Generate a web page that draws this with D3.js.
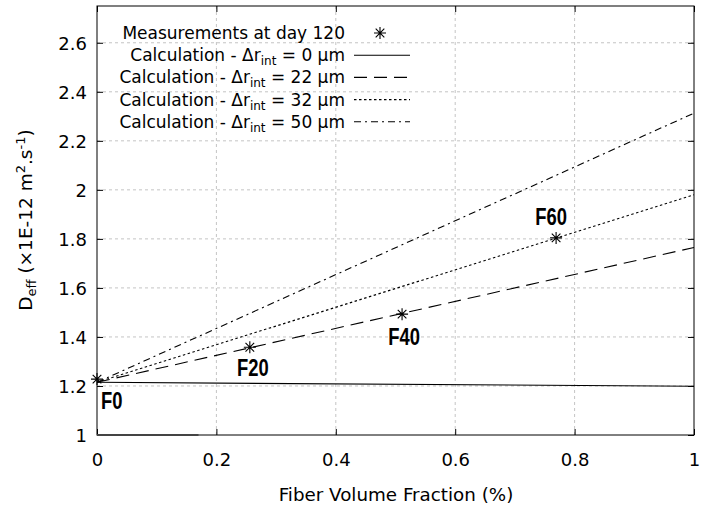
<!DOCTYPE html>
<html>
<head>
<meta charset="utf-8">
<script src="https://cdn.jsdelivr.net/npm/d3@7"></script>
<style>
  body { margin: 0; background: #fff; }
  text { font-family: "DejaVu Sans", sans-serif; fill: #000; }
  .flabel { font-family: "Liberation Sans", Arial, sans-serif; font-weight: bold; }
</style>
</head>
<body>
<script>
// chart values
const xTicks = [0, 0.2, 0.4, 0.6, 0.8, 1];
const yTicks = [1, 1.2, 1.4, 1.6, 1.8, 2, 2.2, 2.4, 2.6];
const calcX = [0, 1];
const calc0 = [1.215, 1.199];
const calc22 = [1.215, 1.765];
const calc32 = [1.215, 1.98];
const calc50 = [1.215, 2.313];
const measX = [0, 0.256, 0.511, 0.769];
const measY = [1.228, 1.358, 1.493, 1.804];
const measLabels = ["F0", "F20", "F40", "F60"];
const legendRint = ["0", "22", "32", "50"];

const W = 705, H = 512;
const margin = { top: 6, right: 11, bottom: 77, left: 97 };
const iw = W - margin.left - margin.right;
const ih = H - margin.top - margin.bottom;

const svg = d3.select('body')
    .append('svg')
    .attr("width", W)
    .attr("height", H);

const g = svg.append('g').attr('transform', `translate(${margin.left},${margin.top})`);

const x = d3.scaleLinear().domain([0, 1]).range([0, iw]);
const y = d3.scaleLinear().domain([1, 2.75]).range([ih, 0]);

// grid
g.append('g').selectAll('line').data(xTicks.slice(1, -1)).enter().append('line')
    .attr('x1', d => x(d)).attr('x2', d => x(d))
    .attr('y1', 0).attr('y2', ih)
    .attr('stroke', '#c4c4c4').attr('stroke-dasharray', '3,3');
g.append('g').selectAll('line').data(yTicks.slice(1)).enter().append('line')
    .attr('x1', 0).attr('x2', iw)
    .attr('y1', d => y(d)).attr('y2', d => y(d))
    .attr('stroke', '#c4c4c4').attr('stroke-dasharray', '3,3');

// axes (ticks inside, mirrored)
const axB = g.append('g').attr('transform', `translate(0,${ih})`)
    .call(d3.axisBottom(x).tickValues(xTicks).tickSize(-6).tickFormat(d3.format('')));
const axT = g.append('g')
    .call(d3.axisTop(x).tickValues(xTicks).tickSize(-6).tickFormat(''));
const axL = g.append('g')
    .call(d3.axisLeft(y).tickValues(yTicks).tickSize(-6).tickFormat(d3.format('')));
const axR = g.append('g').attr('transform', `translate(${iw},0)`)
    .call(d3.axisRight(y).tickValues(yTicks).tickSize(-6).tickFormat(''));
[axB, axT, axL, axR].forEach(a => {
    a.select('.domain').remove();
    a.selectAll('line').attr('stroke', '#000');
    a.selectAll('text').attr('font-size', 18).attr('font-family', '"DejaVu Sans", sans-serif').attr('fill', '#000');
});
axB.selectAll('text').attr('dy', null).attr('y', 31);
axL.selectAll('text').attr('x', -10).attr('dy', '0.36em');

// frame
g.append('rect').attr('width', iw).attr('height', ih)
    .attr('fill', 'none').attr('stroke', '#000').attr('stroke-width', 1);
g.append('line').attr('x1', x(0)).attr('x2', x(0.17)).attr('y1', y(1)).attr('y2', y(1))
    .attr('stroke', '#444').attr('stroke-width', 2);

// calculation lines
const lineGen = d3.line().x(d => x(d[0])).y(d => y(d[1]));
const series = [
    { v: calc0, dash: null },
    { v: calc22, dash: '13,7' },
    { v: calc32, dash: '2.5,2.5' },
    { v: calc50, dash: '7,4,2,4' }
];
series.forEach(s => {
    g.append('path')
        .datum(calcX.map((d, i) => [d, s.v[i]]))
        .attr('d', lineGen)
        .attr('fill', 'none')
        .attr('stroke', '#000')
        .attr('stroke-width', 1.1)
        .attr('stroke-dasharray', s.dash);
});

function star(sel, cx, cy, r) {
    const a = r * 0.72;
    sel.append('path')
        .attr('d', `M${cx - r},${cy}H${cx + r}M${cx},${cy - r}V${cy + r}` +
            `M${cx - a},${cy - a}L${cx + a},${cy + a}M${cx - a},${cy + a}L${cx + a},${cy - a}`)
        .attr('stroke', '#000').attr('stroke-width', 1.1).attr('fill', 'none');
}

// measurements
measX.forEach((d, i) => star(g, x(d), y(measY[i]), 6));

const labelPos = [
    { dx: 4, dy: 30, anchor: 'start' },
    { dx: 3, dy: 29, anchor: 'middle' },
    { dx: 2, dy: 31, anchor: 'middle' },
    { dx: -5, dy: -13, anchor: 'middle' }
];
// narrow bold labels: squeeze horizontally
g.selectAll('.flabel').data(measLabels).enter().append('text')
    .attr('class', 'flabel')
    .attr('transform', (d, i) => `translate(${x(measX[i]) + labelPos[i].dx},${y(measY[i]) + labelPos[i].dy}) scale(0.8,1)`)
    .attr('text-anchor', (d, i) => labelPos[i].anchor)
    .attr('font-size', 23)
    .text(d => d);

// axis titles
svg.append('text')
    .attr('x', 396).attr('y', 501)
    .attr('text-anchor', 'middle').attr('font-size', 18.3)
    .text('Fiber Volume Fraction (%)');

const yl = svg.append('text')
    .attr('transform', `translate(32,220) rotate(-90)`)
    .attr('text-anchor', 'middle').attr('font-size', 18.5);
yl.append('tspan').text('D');
yl.append('tspan').attr('font-size', 13).attr('dy', 4).text('eff');
yl.append('tspan').attr('dy', -4).text(' (\u00d71E-12 m');
yl.append('tspan').attr('font-size', 13).attr('dy', -7).text('2');
yl.append('tspan').attr('dy', 7).text('.s');
yl.append('tspan').attr('font-size', 13).attr('dy', -7).text('-1');
yl.append('tspan').attr('dy', 7).text(')');

// legend
const legX = 345, legY0 = 33, legDY = 22.2;
const leg = svg.append('g');
leg.append('text').attr('x', legX).attr('y', legY0 + 6)
    .attr('text-anchor', 'end').attr('font-size', 17)
    .text('Measurements at day 120');
star(leg, 380, legY0, 6);

legendRint.forEach((r, i) => {
    const yy = legY0 + legDY * (i + 1);
    const t = leg.append('text').attr('x', legX).attr('y', yy + 6)
        .attr('text-anchor', 'end').attr('font-size', 17);
    t.append('tspan').text('Calculation - \u0394r');
    t.append('tspan').attr('font-size', 12).attr('dy', 4).text('int');
    t.append('tspan').attr('dy', -4).text(` = ${r} \u00b5m`);
    leg.append('line')
        .attr('x1', 354).attr('x2', 410).attr('y1', yy).attr('y2', yy)
        .attr('stroke', '#000').attr('stroke-width', 1.1)
        .attr('stroke-dasharray', series[i].dash);
});
</script>
</body>
</html>
